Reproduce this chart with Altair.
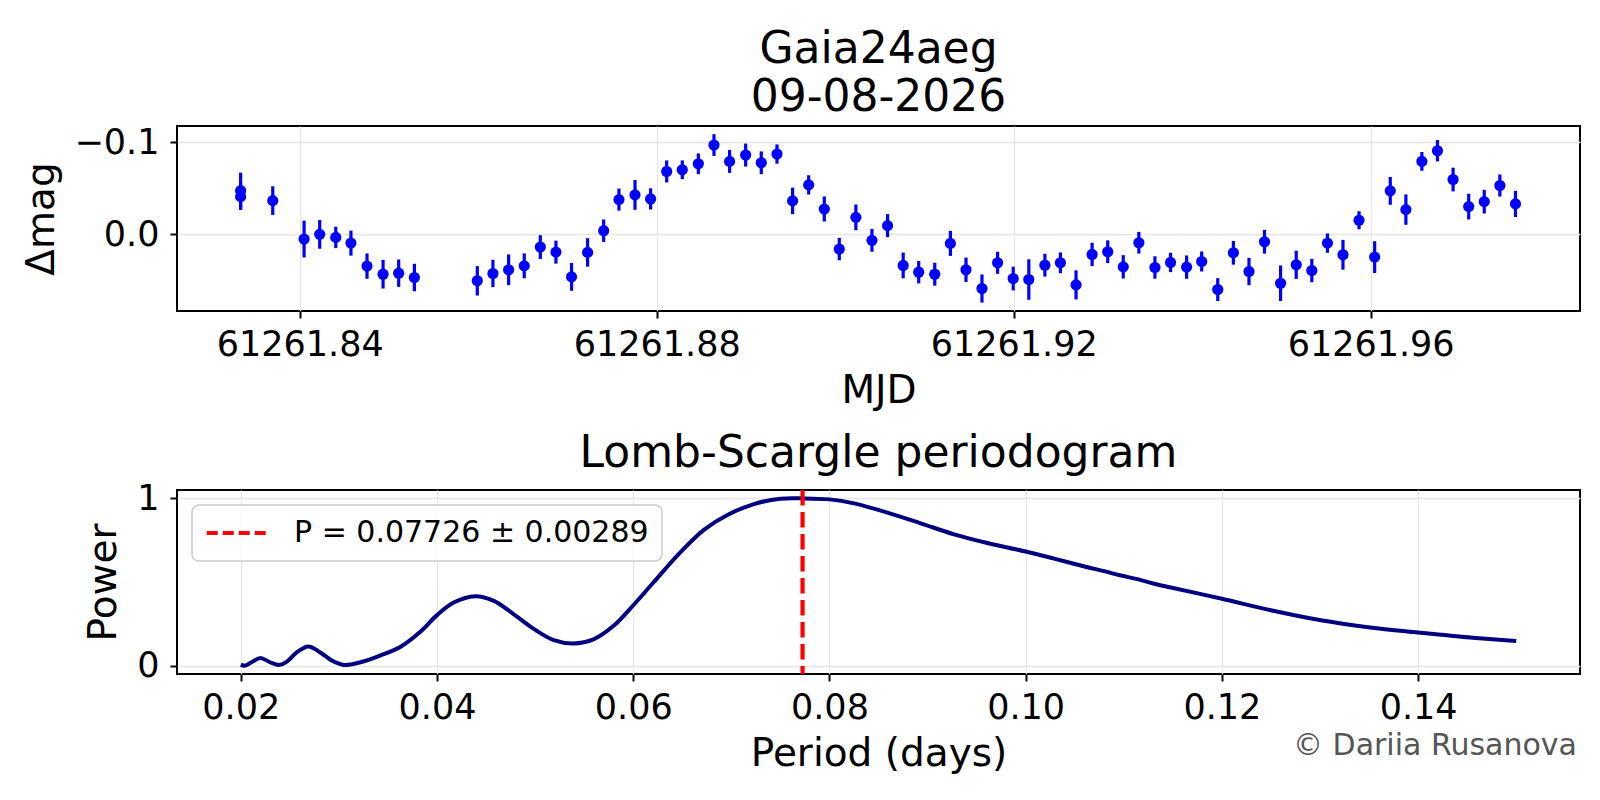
import altair as alt
import pandas as pd

# ---------------- data ----------------
TITLE_NAME = "Gaia24aeg"
TITLE_DATE = "09-08-2026"
PERIOD_BEST = 0.07726
PERIOD_ERR = 0.00289
CREDIT = "© Dariia Rusanova"

mjd = [61261.83338, 61261.83338, 61261.83698, 61261.84049, 61261.84224, 61261.84404,
       61261.84574, 61261.84754, 61261.84934, 61261.85109, 61261.85285, 61261.85990,
       61261.86165, 61261.86341, 61261.86516, 61261.86696, 61261.86871, 61261.87046,
       61261.87226, 61261.87406, 61261.87577, 61261.87757, 61261.87932, 61261.88112,
       61261.88287, 61261.88467, 61261.88642, 61261.88817, 61261.88997, 61261.89172,
       61261.89348, 61261.89523, 61261.89703, 61261.89878, 61261.90046, 61261.90232,
       61261.90412, 61261.90587, 61261.90762, 61261.90936, 61261.91116, 61261.91291,
       61261.91466, 61261.91645, 61261.91820, 61261.91995, 61261.92170, 61261.92350,
       61261.92524, 61261.92699, 61261.92879, 61261.93054, 61261.93228, 61261.93403,
       61261.93583, 61261.93758, 61261.93938, 61261.94107, 61261.94287, 61261.94462,
       61261.94637, 61261.94811, 61261.94991, 61261.95166, 61261.95341, 61261.95516,
       61261.95690, 61261.95870, 61261.96045, 61261.96220, 61261.96395, 61261.96574,
       61261.96749, 61261.96924, 61261.97099, 61261.97273, 61261.97448, 61261.97623]

dmag = [-0.0475, -0.0410, -0.0367, 0.0051, 0.0000, 0.0033,
        0.0095, 0.0345, 0.0433, 0.0422, 0.0469, 0.0505,
        0.0425, 0.0385, 0.0342, 0.0138, 0.0193, 0.0462,
        0.0196, -0.0040, -0.0378, -0.0429, -0.0385, -0.0684,
        -0.0702, -0.0767, -0.0971, -0.0793, -0.0862, -0.0778,
        -0.0873, -0.0364, -0.0538, -0.0276, 0.0160, -0.0185,
        0.0065, -0.0095, 0.0338, 0.0411, 0.0433, 0.0098,
        0.0385, 0.0589, 0.0309, 0.0480, 0.0491, 0.0335,
        0.0309, 0.0549, 0.0218, 0.0189, 0.0353, 0.0091,
        0.0360, 0.0305, 0.0356, 0.0295, 0.0600, 0.0200,
        0.0404, 0.0080, 0.0531, 0.0331, 0.0393, 0.0095,
        0.0222, -0.0153, 0.0247, -0.0473, -0.0269, -0.0793,
        -0.0909, -0.0596, -0.0302, -0.0356, -0.0531, -0.0331]

dmag_err = [0.0196, 0.0145, 0.0156, 0.0200, 0.0156, 0.0116,
            0.0136, 0.0138, 0.0156, 0.0149, 0.0149, 0.0160,
            0.0149, 0.0167, 0.0135, 0.0129, 0.0125, 0.0151,
            0.0155, 0.0122, 0.0120, 0.0162, 0.0115, 0.0120,
            0.0102, 0.0113, 0.0118, 0.0125, 0.0125, 0.0124,
            0.0105, 0.0144, 0.0105, 0.0136, 0.0122, 0.0140,
            0.0124, 0.0125, 0.0140, 0.0122, 0.0125, 0.0136,
            0.0133, 0.0153, 0.0120, 0.0129, 0.0220, 0.0124,
            0.0113, 0.0158, 0.0127, 0.0124, 0.0127, 0.0118,
            0.0122, 0.0105, 0.0127, 0.0109, 0.0124, 0.0129,
            0.0149, 0.0129, 0.0193, 0.0153, 0.0127, 0.0105,
            0.0162, 0.0098, 0.0173, 0.0151, 0.0165, 0.0102,
            0.0116, 0.0129, 0.0140, 0.0129, 0.0120, 0.0142]

period = [0.0200, 0.0204, 0.0211, 0.0220, 0.0230, 0.0239, 0.0247, 0.0257, 0.0269, 0.0281,
          0.0293, 0.0305, 0.0322, 0.0342, 0.0363, 0.0383, 0.0400, 0.0417, 0.0439, 0.0458,
          0.0478, 0.0499, 0.0519, 0.0539, 0.0560, 0.0580, 0.0601, 0.0621, 0.0648, 0.0672,
          0.0696, 0.0723, 0.0750, 0.0773, 0.0800, 0.0825, 0.0859, 0.0893, 0.0927, 0.0961,
          0.1000, 0.1029, 0.1062, 0.1080, 0.1096, 0.1114, 0.1130, 0.1148, 0.1200, 0.1250,
          0.1301, 0.1351, 0.1400, 0.1453, 0.1500]

power = [0.006, 0.000, 0.020, 0.046, 0.020, 0.004, 0.024, 0.079, 0.115, 0.079,
         0.030, 0.004, 0.020, 0.060, 0.113, 0.202, 0.302, 0.377, 0.415, 0.387,
         0.308, 0.218, 0.153, 0.133, 0.159, 0.238, 0.367, 0.500, 0.677, 0.812,
         0.901, 0.966, 0.998, 1.000, 0.994, 0.970, 0.915, 0.851, 0.785, 0.733,
         0.682, 0.640, 0.590, 0.565, 0.540, 0.517, 0.491, 0.467, 0.400, 0.331,
         0.271, 0.228, 0.198, 0.168, 0.147]

mjd_ticks = [61261.84, 61261.88, 61261.92, 61261.96]
dmag_ticks = [-0.1, 0.0]
period_ticks = [0.02, 0.04, 0.06, 0.08, 0.10, 0.12, 0.14]
power_ticks = [0, 1]

FONT = "DejaVu Sans"
NBSP = "\u00a0"

# ---------------- tables ----------------
lc = pd.DataFrame({"mjd": mjd, "dmag": dmag, "err": dmag_err})
lc["lo"] = lc["dmag"] - lc["err"]
lc["hi"] = lc["dmag"] + lc["err"]

pg = pd.DataFrame({"period": period, "power": power})
label = f"P = {PERIOD_BEST:.5f} ± {PERIOD_ERR:.5f}"
best = pd.DataFrame({"period": [PERIOD_BEST], "label": [label]})
credit = pd.DataFrame({"t": [CREDIT]})

# ---------------- top panel: light curve ----------------
x_top = alt.X("mjd:Q", title="MJD",
              scale=alt.Scale(domain=[61261.82625, 61261.98346], nice=False, zero=False),
              axis=alt.Axis(values=mjd_ticks, format=".2f"))
y_scale_top = alt.Scale(domain=[-0.1178, 0.0833], reverse=True, nice=False, zero=False)
y_axis_top = alt.Axis(values=dmag_ticks, format=".1f")

bars = alt.Chart(lc).mark_rule(color="#0000ff", strokeWidth=3.2).encode(
    x=x_top,
    y=alt.Y("lo:Q", title="Δmag", scale=y_scale_top, axis=y_axis_top),
    y2="hi:Q",
)
pts = alt.Chart(lc).mark_circle(color="#0000ff", size=125, opacity=1).encode(
    x=x_top,
    y=alt.Y("dmag:Q", title="Δmag", scale=y_scale_top, axis=y_axis_top),
)
top = alt.layer(bars, pts).properties(
    width=1403, height=185,
    title=alt.Title([TITLE_NAME + NBSP, NBSP + TITLE_DATE], fontSize=44, lineHeight=48, offset=5),
)

# ---------------- bottom panel: periodogram ----------------
x_bot = alt.X("period:Q", title="Period (days)",
              scale=alt.Scale(domain=[0.0135, 0.1565], nice=False, zero=False),
              axis=alt.Axis(values=period_ticks, format=".2f"))
y_bot = alt.Y("power:Q", title="Power",
              scale=alt.Scale(domain=[-0.05, 1.05], nice=False, zero=False),
              axis=alt.Axis(values=power_ticks, format="d"))

curve = alt.Chart(pg).mark_line(color="#000080", strokeWidth=4, interpolate="catmull-rom").encode(
    x=x_bot, y=y_bot
)
vline = alt.Chart(best).mark_rule(strokeWidth=4.2, strokeDash=[15.4, 6.6]).encode(
    x=x_bot,
    color=alt.Color("label:N",
                    scale=alt.Scale(domain=[label], range=["#ff0000"]),
                    legend=alt.Legend(title=None, orient="top-left", offset=15,
                                      symbolType="M-2.5,0L2.5,0", symbolSize=625,
                                      symbolOffset=18, symbolStrokeWidth=4,
                                      symbolDash=[11, 5], symbolFillColor="transparent",
                                      labelFontSize=30, labelFont=FONT, labelColor="black",
                                      labelOffset=41, labelLimit=800, padding=13,
                                      fillColor="rgba(255,255,255,0.8)",
                                      strokeColor="#cccccc", cornerRadius=7)),
)
credit_txt = alt.Chart(credit).mark_text(
    align="right", baseline="alphabetic", fontSize=30, font=FONT, color="#555555"
).encode(text="t:N", x=alt.value(1400), y=alt.value(265))

bottom = alt.layer(curve, vline, credit_txt).properties(
    width=1403, height=184,
    title=alt.Title("Lomb-Scargle periodogram", fontSize=44, offset=5),
)

chart = alt.vconcat(top, bottom, spacing=20).resolve_legend(
    color="independent"
).resolve_scale(
    color="independent"
).properties(
    padding={"left": 13, "top": 19, "right": 0, "bottom": 0}
).configure_axis(
    labelFont=FONT, labelFontSize=35, labelColor="black",
    titleFont=FONT, titleFontSize=39, titleFontWeight="normal", titleColor="black",
    tickColor="black", tickSize=7, tickWidth=2, domain=False,
    gridColor="#e6e6e6", gridWidth=1.3, labelPadding=9, titlePadding=9,
).configure_axisY(
    labelPadding=11, titlePadding=13,
).configure_view(
    stroke="black", strokeWidth=2,
).configure_title(
    font=FONT, fontSize=44, fontWeight="normal", color="black", anchor="middle",
).configure_legend(
    strokeWidth=1.5,
)

chart.save("out.html", embed_options={"renderer": "svg", "actions": False})
